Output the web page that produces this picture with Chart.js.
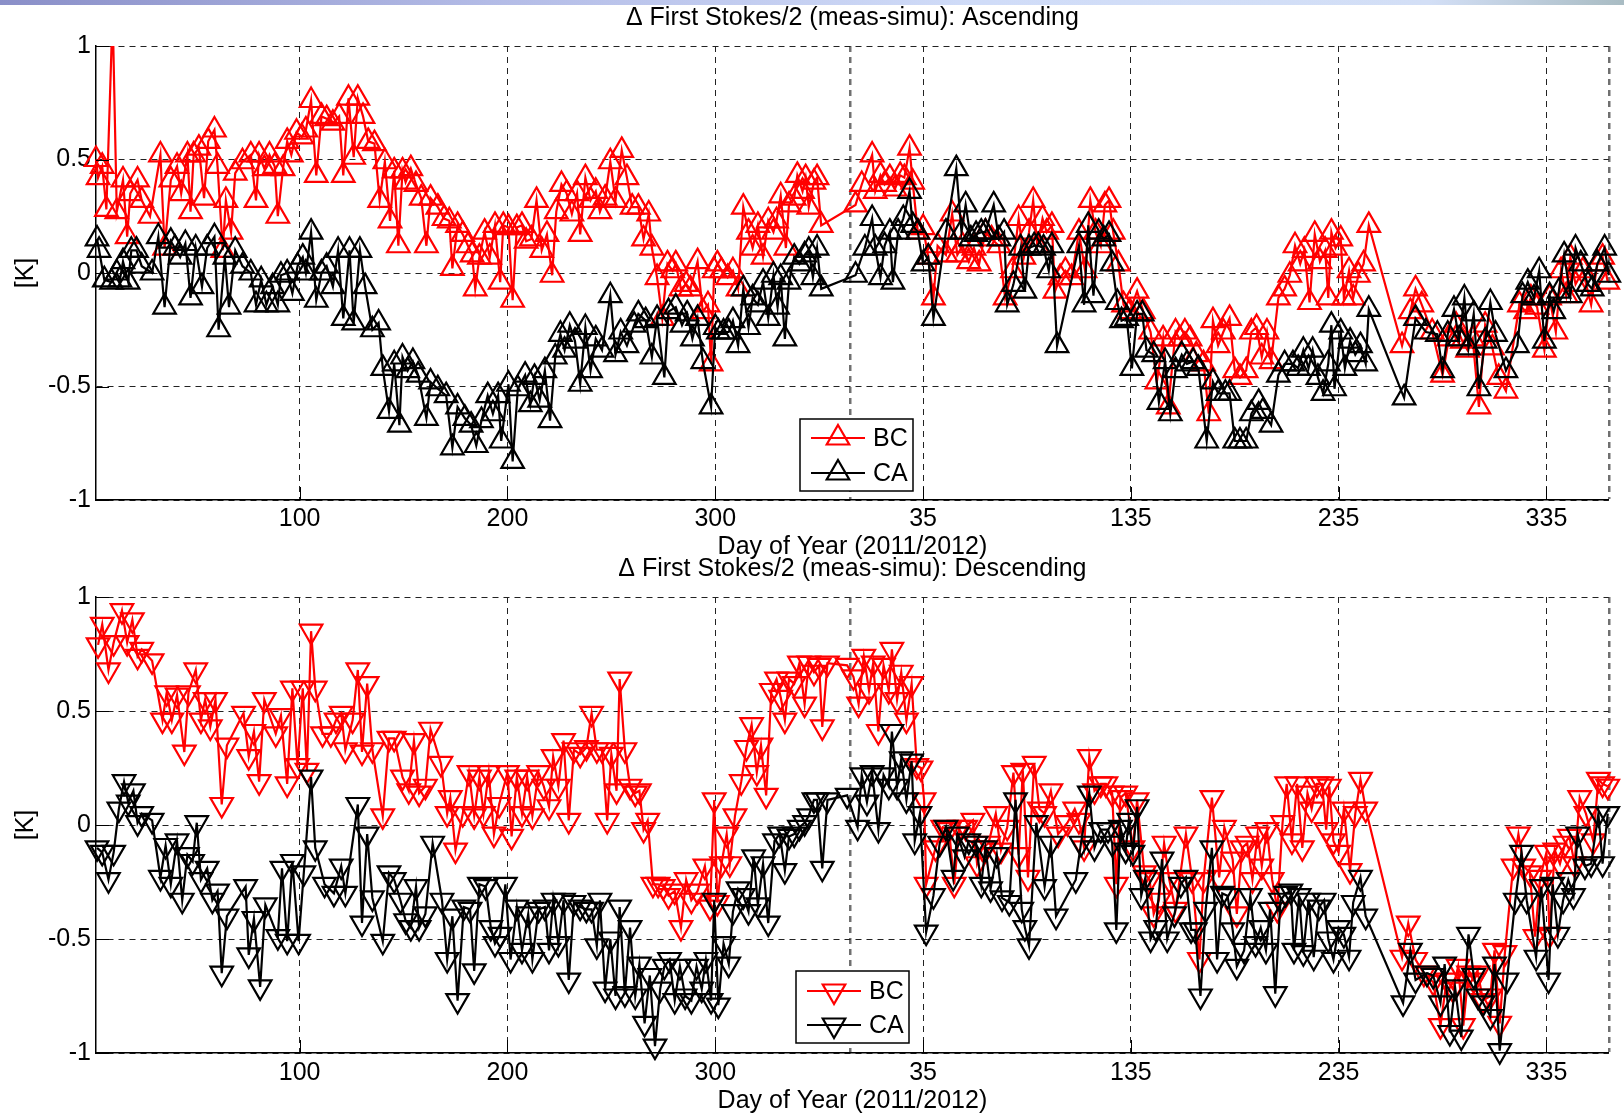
<!DOCTYPE html>
<html>
<head>
<meta charset="utf-8">
<script src="https://cdn.jsdelivr.net/npm/chart.js@4.4.1/dist/chart.umd.min.js"></script>
<style>
  body { margin: 0; background: #fff; width: 1624px; height: 1117px; position: relative; overflow: hidden; }
  #band { position: absolute; left: 0; top: 0; width: 1624px; height: 5px; z-index: 5;
          background: linear-gradient(to right, #8a8fc8, #b3bbe6 30%, #d0dcf8 60%, #d3dff6 88%, #a9bcc3); }
  .panel { position: absolute; left: 0; width: 1624px; }
</style>
</head>
<body>
<div id="band"></div>
<div class="panel" style="top:0;height:562px"><canvas id="ascending"></canvas></div>
<div class="panel" style="top:552px;height:565px"><canvas id="descending"></canvas></div>
<script>
// x = day counted from 1 Jan 2011 (2012 days are shifted by 365)
const dayTicks = [100, 200, 300, 400, 500, 600, 700];
const dayTickLabels = ['100', '200', '300', '35', '135', '235', '335'];
const yearEnd = 365;
const firstDay = 2;
const lastDay = 730;

// [day, K]
const ascBC = [[2,0.5],[3,0.42],[5,0.47],[7,0.28],[10,1.15],[12,0.27],[15,0.41],[17,0.16],[18.5,0.35],[22,0.41],[24,0.32],[28,0.25],[33,0.52],[35,0.11],[38,0.41],[41,0.47],[43,0.35],[46,0.52],[47.5,0.27],[49,0.52],[51.5,0.55],[54,0.33],[56,0.58],[59,0.63],[60.5,0.47],[63,0.1],[64.5,0.32],[67,0.18],[69,0.44],[72.5,0.49],[76.5,0.52],[79,0.32],[80.5,0.52],[83,0.46],[85.5,0.52],[88,0.47],[89.5,0.25],[92,0.46],[94,0.58],[96,0.52],[98.5,0.62],[101,0.6],[103,0.63],[105.5,0.76],[108,0.43],[110.5,0.69],[113,0.68],[116,0.66],[119,0.69],[121,0.43],[123.5,0.77],[126,0.51],[128,0.77],[130.5,0.69],[133,0.58],[136,0.57],[138.5,0.32],[141,0.49],[143.5,0.23],[145.5,0.45],[147.5,0.12],[149.5,0.45],[151,0.4],[153.5,0.46],[156,0.39],[158.5,0.33],[161,0.12],[163,0.33],[166.5,0.29],[169.5,0.24],[172,0.23],[173.5,0.02],[176,0.21],[178.5,0.17],[181,0.12],[183,0.08],[184.5,-0.07],[186.5,0.07],[189,0.18],[191.5,0.07],[194,0.21],[196.5,-0.04],[198,0.21],[200.5,0.2],[202.5,-0.12],[204.5,0.2],[207,0.21],[209,0.14],[211.5,0.15],[214,0.32],[216.5,0.1],[219,0.17],[221.5,-0.01],[223.5,0.27],[226,0.39],[228.5,0.35],[231,0.26],[233.5,0.35],[235,0.17],[237.5,0.42],[240,0.32],[242.5,0.36],[244.5,0.27],[247,0.33],[249.5,0.49],[252,0.32],[255,0.54],[257.5,0.42],[260,0.29],[263,0.29],[265.5,0.15],[268,0.26],[269.5,0.11],[272,-0.02],[274.5,-0.2],[277,0.04],[279.5,0.01],[281,0.04],[283.5,-0.07],[286,-0.05],[288,-0.07],[291.5,0.05],[294,-0.17],[296.5,-0.14],[298,-0.4],[299.5,0.01],[301,0.04],[303,0.01],[306,-0.02],[308.5,0.01],[311,-0.07],[313.5,0.29],[316,0.18],[318,0.11],[320.5,0.21],[323,0.07],[325.5,0.23],[328,0.18],[329.5,0.23],[331.5,0.34],[334,0.11],[335.5,0.3],[338,0.33],[339.5,0.43],[342,0.36],[343.5,0.42],[345,0.29],[347.5,0.4],[349,0.42],[351,0.21],[367.5,0.3],[370.5,0.39],[375.5,0.52],[377,0.36],[379.5,0.43],[381.5,0.39],[384,0.42],[386.5,0.37],[389,0.43],[391,0.42],[393.5,0.55],[395,0.4],[397.5,0.18],[400,0.2],[402.5,0.07],[405,-0.11],[407,0.12],[411,0.08],[414,0.26],[416.5,0.08],[419,0.12],[422,0.05],[424.5,0.11],[427,0.04],[430,0.18],[433,0.15],[436.5,0.12],[439.5,-0.11],[443,0.01],[446,0.24],[448.5,0.07],[451,0.18],[453,0.32],[455,0.12],[457.5,0.24],[459.5,0.18],[462,0.21],[463.5,-0.08],[466,-0.02],[468.5,0.01],[471.5,-0.02],[475,0.18],[478,0.01],[480.5,0.32],[483,0.18],[485.5,0.12],[487.5,0.3],[489.5,0.32],[491.5,0.18],[494,0.04],[496.5,-0.14],[499.5,-0.17],[503,-0.08],[506,-0.17],[509.5,-0.26],[512.5,-0.48],[515.5,-0.29],[518,-0.59],[521.5,-0.26],[523.5,-0.29],[526,-0.26],[528.5,-0.29],[531.5,-0.36],[535,-0.4],[537.5,-0.62],[539.5,-0.21],[542,-0.32],[544.5,-0.26],[547.5,-0.2],[550,-0.43],[552.5,-0.46],[555.5,-0.43],[558,-0.26],[560.5,-0.24],[563,-0.37],[565.5,-0.26],[567.5,-0.39],[571,-0.11],[574,-0.07],[576.5,-0.01],[579,0.12],[581.5,0.04],[583.5,0.1],[586,-0.13],[588.5,0.17],[591,0.05],[593.5,0.1],[595,-0.11],[596.5,0.18],[598.5,0.11],[601,0.15],[602.5,-0.11],[605,0.01],[607,-0.11],[609.5,-0.01],[612,0.04],[614.5,0.21],[630.5,-0.32],[634.5,-0.17],[637,-0.07],[640,-0.14],[645,-0.26],[650,-0.45],[653,-0.29],[656.5,-0.23],[659.5,-0.3],[662,-0.34],[664.5,-0.29],[667.5,-0.59],[670.5,-0.23],[674,-0.33],[677,-0.46],[680.5,-0.52],[687,-0.14],[690,-0.17],[692.5,-0.11],[695.5,-0.15],[699,-0.34],[701.5,-0.11],[704.5,-0.26],[707,0.01],[709.5,-0.1],[711.5,0.07],[714,-0.05],[717.5,0.01],[721.5,-0.14],[724.5,0.04],[727,0.07],[729.5,-0.04]];

const ascCA = [[2.5,0.15],[3.5,0.1],[6,-0.03],[9.5,-0.04],[12,0],[13.5,-0.03],[15,0.05],[17.5,-0.04],[19,0.1],[21.5,0.1],[24,0.03],[29,0],[32,0.16],[35,-0.15],[38,0.14],[40,0.11],[42.5,0.07],[45,0.13],[47.5,-0.11],[50,0.11],[53,-0.06],[55.5,0.11],[59,0.16],[61,-0.25],[64,0.07],[66,-0.15],[69,0.1],[72.5,0.03],[76.5,0],[79,-0.14],[81.5,-0.03],[84,-0.14],[87,-0.06],[89.5,-0.14],[91,-0.01],[94,0],[96.5,-0.09],[99,0.03],[101.5,0.07],[103,0],[105.5,0.18],[108,-0.12],[110.5,0],[113,0.03],[116,-0.06],[118.5,0.1],[121,-0.2],[124,0.1],[126,-0.22],[129,0.1],[131.5,-0.06],[135,-0.25],[138,-0.22],[140,-0.42],[143,-0.61],[145.5,-0.4],[148,-0.67],[149.5,-0.37],[152,-0.43],[154.5,-0.39],[157,-0.45],[161,-0.64],[163,-0.48],[166.5,-0.51],[170.5,-0.54],[173.5,-0.77],[176,-0.59],[179.5,-0.64],[182.5,-0.67],[185,-0.76],[187.5,-0.65],[190.5,-0.54],[193,-0.62],[195.5,-0.54],[197,-0.74],[200.5,-0.49],[202.5,-0.83],[205,-0.51],[208.5,-0.45],[211,-0.58],[213,-0.46],[215.5,-0.56],[218,-0.43],[220.5,-0.65],[223,-0.37],[225.5,-0.27],[227.5,-0.34],[230,-0.23],[232.5,-0.3],[235,-0.49],[237.5,-0.24],[240,-0.43],[242.5,-0.29],[245.5,-0.34],[249.5,-0.1],[252,-0.36],[254.5,-0.26],[257.5,-0.32],[261,-0.23],[263,-0.18],[266.5,-0.21],[269.5,-0.37],[272,-0.2],[275.5,-0.46],[277.5,-0.17],[281,-0.15],[284,-0.23],[286.5,-0.18],[289,-0.29],[291.5,-0.2],[294,-0.39],[298,-0.59],[300,-0.24],[301.5,-0.26],[304,-0.26],[306.5,-0.26],[308.5,-0.21],[311,-0.32],[313.5,-0.07],[316,-0.24],[318,-0.11],[320.5,-0.14],[323,-0.04],[325.5,-0.2],[328,-0.01],[330,-0.15],[331.5,-0.02],[333.5,-0.29],[335.5,-0.04],[338,0.07],[340.5,0.04],[343,0.08],[345,0.1],[347,-0.02],[349,0.11],[351,-0.07],[367.5,-0.01],[372,0.11],[375.5,0.24],[377,0.11],[379.5,-0.02],[381.5,0.12],[384,0.18],[385.5,-0.04],[388,0.18],[390.5,0.24],[393.5,0.36],[395,0.21],[397.5,0.18],[400,0.04],[402.5,0.07],[405,-0.2],[411,0.18],[416,0.46],[418.5,0.18],[420.5,0.3],[423,0.15],[425.5,0.17],[428,0.18],[430,0.18],[434,0.3],[436.5,0.15],[439,0.18],[440.5,-0.14],[443.5,-0.05],[447,0.11],[449,-0.08],[451,0.11],[453.5,0.12],[455.5,0.12],[458,0.11],[460.5,0.01],[462,0.12],[464.5,-0.32],[475,0.12],[477.5,-0.14],[479.5,0.21],[482,-0.1],[484.5,0.18],[487,0.15],[489.5,0.17],[491,0.04],[493.5,-0.13],[495.5,-0.21],[498,-0.2],[500.5,-0.42],[503,-0.18],[505.5,-0.18],[507.5,-0.34],[511,-0.36],[513.5,-0.57],[516.5,-0.39],[519,-0.62],[521.5,-0.43],[524.5,-0.36],[527,-0.4],[530,-0.39],[532.5,-0.42],[536.5,-0.74],[539.5,-0.48],[542,-0.53],[545.5,-0.53],[547.5,-0.53],[550,-0.74],[552.5,-0.74],[555.5,-0.74],[558,-0.62],[561.5,-0.57],[563.5,-0.61],[567.5,-0.67],[571,-0.45],[574,-0.4],[578,-0.4],[580.5,-0.42],[583,-0.34],[585.5,-0.42],[587.5,-0.34],[590,-0.46],[592.5,-0.53],[595,-0.4],[596.5,-0.23],[598,-0.51],[601,-0.26],[603,-0.42],[605.5,-0.3],[608,-0.36],[610.5,-0.32],[613,-0.4],[614.5,-0.16],[631.5,-0.55],[637,-0.2],[642,-0.26],[647.5,-0.27],[650,-0.43],[652.5,-0.27],[655.5,-0.16],[658,-0.29],[660.5,-0.11],[662.5,-0.33],[665,-0.18],[667.5,-0.51],[670.5,-0.3],[673,-0.13],[675.5,-0.27],[680.5,-0.43],[686,-0.32],[688.5,-0.1],[691,-0.04],[694,-0.11],[696.5,0.01],[699,-0.3],[701.5,-0.1],[703.5,-0.17],[706,-0.08],[708.5,0.08],[711.5,-0.1],[714,0.11],[716.5,0.04],[720,-0.05],[722,-0.07],[724.5,0.04],[728,0.11],[730,-0.01]];

const descBC = [[3,0.79],[5,0.88],[8,0.68],[10.5,0.8],[14.5,0.94],[17,0.8],[19.5,0.9],[22,0.74],[24,0.77],[29,0.72],[34,0.46],[36,0.58],[38.5,0.46],[41,0.57],[44.5,0.32],[46.5,0.58],[50,0.68],[52.5,0.46],[54.5,0.55],[57,0.43],[59.5,0.55],[62.5,0.09],[65,0.35],[73,0.49],[75.5,0.3],[78,0.41],[80.5,0.19],[83,0.55],[88.5,0.4],[91,0.48],[94,0.18],[96.5,0.6],[99,0.26],[101.5,0.6],[103.5,0.24],[105.5,0.85],[107.5,0.6],[111,0.4],[115,0.4],[117.5,0.46],[120,0.49],[122,0.33],[125.5,0.46],[128,0.68],[130,0.32],[132.5,0.62],[135,0.33],[140,0.04],[143,0.38],[145.5,0.38],[149.5,0.21],[152.5,0.15],[155,0.37],[157.5,0.14],[160.5,0.17],[163,0.42],[168,0.27],[171,0.05],[172.5,0.12],[175,-0.11],[178.5,0.05],[181.5,0.23],[184,0.04],[186.5,0.21],[188.5,0.05],[191,0.23],[193.5,-0.04],[196,0.09],[200,0.23],[202,-0.05],[204.5,0.21],[207,0.05],[209.5,0.21],[212,0.04],[215,0.23],[217.5,0.17],[220,0.08],[222,0.3],[224.5,0.17],[227,0.37],[229.5,0.02],[232,0.33],[235,0.31],[238,0.34],[240.5,0.49],[243,0.33],[245.5,0.33],[248,0.02],[250,0.31],[252.5,0.15],[254,0.64],[256.5,0.33],[259,0.17],[261.5,0.14],[263.5,0.15],[265.5,-0.02],[267.5,0.02],[270,-0.26],[272.5,-0.26],[275,-0.27],[277.5,-0.31],[280.5,-0.29],[283.5,-0.45],[286,-0.24],[288.5,-0.33],[291.5,-0.29],[295,-0.18],[297.5,-0.36],[299.5,0.11],[301,-0.34],[303,-0.17],[305.5,-0.04],[307,-0.17],[309.5,0.04],[312.5,0.19],[315,0.34],[317.5,0.44],[320,0.23],[322,0.35],[324.5,0.13],[327,0.59],[329.5,0.64],[331.5,0.56],[333.5,0.46],[335.5,0.64],[338,0.62],[340.5,0.71],[343,0.53],[345,0.71],[347.5,0.67],[350,0.7],[351.5,0.43],[354,0.71],[363.5,0.7],[366.5,0.65],[369,0.53],[371.5,0.74],[374,0.59],[376,0.71],[378.5,0.41],[381,0.7],[383.5,0.59],[385,0.77],[387.5,0.55],[389.5,0.67],[392,0.46],[394.5,0.62],[397,0.26],[399,0.25],[400.5,0.11],[401.5,-0.26],[406,-0.1],[409.5,-0.01],[412.5,-0.02],[415,-0.26],[417.5,-0.01],[420.5,-0.01],[424,0.02],[426,-0.17],[428.5,-0.1],[431.5,-0.08],[435,0.05],[437.5,-0.11],[440.5,-0.01],[443.5,0.23],[446,-0.13],[448,0.24],[450.5,-0.23],[453.5,0.27],[456,0.07],[458.5,0.05],[461.5,0.15],[465,-0.04],[469.5,0.01],[473,0.07],[475,0.02],[477.5,-0.1],[480,0.3],[482.5,0.15],[485.5,0.18],[488,0.18],[491,0.14],[493,-0.26],[495,0.12],[497.5,0.14],[501,-0.1],[503,0.11],[506.5,-0.21],[509,-0.24],[511,-0.39],[513.5,-0.33],[516,-0.08],[518.5,-0.24],[521.5,-0.37],[526.5,-0.04],[529.5,-0.24],[533,-0.59],[535,-0.24],[539,0.12],[542.5,-0.23],[545,-0.01],[549,-0.15],[551,-0.39],[553.5,-0.1],[556,-0.08],[558.5,-0.24],[561,-0.04],[563,-0.18],[565.5,-0.02],[568,-0.24],[570.5,-0.37],[573,0.01],[575,0.18],[577.5,-0.07],[580,0.18],[582.5,-0.1],[585,0.14],[587,0.07],[589.5,0.18],[592,0.18],[594,-0.02],[595.5,0.17],[597.5,-0.07],[600,-0.12],[602.5,0.07],[605.5,-0.2],[608,0.05],[610.5,0.2],[613,0.07],[630.5,-0.58],[633.5,-0.43],[637,-0.59],[641,-0.65],[645.5,-0.69],[649,-0.88],[652,-0.68],[655,-0.72],[657.5,-0.62],[660,-0.88],[662.5,-0.65],[665,-0.68],[667,-0.65],[669.5,-0.77],[673,-0.75],[675,-0.55],[677.5,-0.87],[680,-0.56],[684,-0.18],[686.5,-0.04],[689,-0.18],[692,-0.21],[694.5,-0.49],[697,-0.23],[700,-0.12],[701.5,-0.48],[704,-0.11],[706.5,-0.17],[709,-0.08],[711,-0.05],[713.5,-0.17],[716,0.12],[719,0.05],[722.5,-0.07],[725,0.2],[727,0.18],[729.5,0.17]];

const descCA = [[2.5,-0.1],[5,-0.12],[8,-0.24],[10.5,-0.12],[13,0.07],[15.5,0.19],[17.5,0.1],[20,0.15],[22,0.01],[24,0.05],[29,0.02],[33,-0.23],[35.5,-0.09],[38,-0.26],[41,-0.07],[43.5,-0.33],[46,-0.13],[48.5,-0.16],[50.5,0.01],[52.5,-0.24],[55.5,-0.19],[58,-0.33],[60.5,-0.29],[62.5,-0.65],[65,-0.4],[74,-0.27],[75.5,-0.57],[78,-0.41],[81,-0.71],[83.5,-0.35],[89.5,-0.49],[91.5,-0.19],[94,-0.51],[96.5,-0.16],[99.5,-0.51],[102,-0.21],[105.5,0.21],[107.5,-0.1],[112,-0.26],[116.5,-0.3],[120,-0.18],[122,-0.3],[128,0.09],[130,-0.43],[132.5,-0.04],[135,-0.32],[140,-0.51],[143,-0.21],[145.5,-0.24],[148.5,-0.33],[151,-0.42],[153.5,-0.45],[156,-0.27],[157.5,-0.45],[160.5,-0.39],[164,-0.08],[168.5,-0.33],[171,-0.59],[173.5,-0.4],[176,-0.77],[179,-0.36],[182,-0.37],[184,-0.64],[186.5,-0.26],[189.5,-0.27],[192,-0.45],[194,-0.52],[196.5,-0.48],[199,-0.26],[201.5,-0.59],[204.5,-0.36],[207,-0.55],[210,-0.39],[212,-0.59],[215,-0.37],[218,-0.36],[220,-0.55],[222,-0.33],[224.5,-0.52],[227,-0.33],[229.5,-0.68],[232,-0.34],[235,-0.36],[238,-0.37],[240.5,-0.37],[243,-0.53],[244.5,-0.33],[247,-0.72],[249.5,-0.5],[252,-0.75],[254,-0.36],[256.5,-0.74],[259,-0.45],[261.5,-0.75],[263.5,-0.61],[266,-0.87],[268.5,-0.66],[271,-0.97],[273.5,-0.72],[275.5,-0.62],[278,-0.59],[280.5,-0.77],[283,-0.62],[285.5,-0.75],[288.5,-0.77],[291,-0.62],[293.5,-0.72],[295.5,-0.59],[298,-0.77],[299.5,-0.33],[301.5,-0.79],[304,-0.52],[306.5,-0.61],[308.5,-0.38],[311,-0.28],[313.5,-0.31],[316,-0.38],[318.5,-0.14],[320.5,-0.35],[323,-0.17],[325.5,-0.43],[328.5,-0.07],[331,-0.04],[333.5,-0.2],[335.5,-0.05],[338,-0.04],[340.5,-0.01],[343,0.01],[345,0.04],[347.5,0.11],[349,0.11],[351.5,-0.19],[354,0.11],[363.5,0.13],[368.5,-0.01],[370.5,0.22],[373,0.1],[375.5,0.23],[378.5,-0.02],[381,0.22],[383.5,0.17],[385,0.41],[387.5,0.17],[389.5,0.29],[392,0.11],[394.5,0.28],[396,-0.07],[398.5,0.05],[401.5,-0.47],[405,-0.31],[408,-0.08],[411,-0.01],[414.5,-0.23],[416.5,-0.04],[420,-0.14],[422,-0.07],[425.5,-0.08],[428,-0.26],[430,-0.1],[432.5,-0.28],[435.5,-0.13],[438,-0.32],[441.5,-0.34],[444.5,0.11],[447.5,-0.37],[449,-0.45],[451,-0.53],[454.5,0.01],[458.5,-0.27],[461.5,-0.08],[464,-0.4],[473.5,-0.24],[476,-0.08],[480,0.14],[482.5,-0.1],[485.5,-0.02],[489,-0.02],[491,-0.08],[493,-0.46],[495,-0.01],[497.5,-0.11],[499,0.02],[501,-0.12],[503,0.08],[505,-0.31],[507,-0.23],[509.5,-0.5],[512,-0.45],[515,-0.15],[517.5,-0.5],[521,-0.39],[524,-0.26],[526.5,-0.23],[529,-0.46],[531,-0.46],[533.5,-0.75],[536,-0.37],[539,-0.1],[541.5,-0.59],[544,-0.3],[546.5,-0.31],[549,-0.46],[551,-0.62],[554.5,-0.55],[557.5,-0.31],[560,-0.52],[562.5,-0.45],[565,-0.55],[567,-0.37],[569.5,-0.74],[572,-0.33],[574.5,-0.3],[577,-0.29],[578.5,-0.55],[581,-0.31],[583,-0.56],[585.5,-0.33],[588,-0.58],[590.5,-0.36],[593,-0.33],[595,-0.5],[597.5,-0.59],[600,-0.45],[602.5,-0.48],[605,-0.58],[607,-0.34],[610.5,-0.23],[613,-0.4],[631,-0.78],[634.5,-0.55],[637,-0.68],[642.5,-0.65],[645.5,-0.66],[649,-0.78],[651,-0.61],[653.5,-0.91],[656,-0.71],[659,-0.93],[662.5,-0.48],[665,-0.66],[667,-0.75],[669.5,-0.78],[673,-0.84],[675,-0.61],[677.5,-0.99],[681,-0.68],[685,-0.33],[688,-0.12],[690.5,-0.33],[695,-0.58],[697.5,-0.27],[701,-0.68],[703,-0.26],[705.5,-0.48],[708,-0.33],[710.5,-0.24],[713,-0.31],[715,-0.04],[718.5,-0.18],[721.5,-0.17],[725,0.05],[727,-0.17],[729.5,0.05]];

const FONT = '"Liberation Sans", Arial, Helvetica, sans-serif';
const MARK = 13;

function toXY(pairs) {
    return pairs.map(p => ({x: p[0], y: p[1]}));
}

// short tick marks inside the axes, like matlab
const insideTicks = {
    id: 'insideTicks',
    afterDatasetsDraw(chart) {
        const {ctx, chartArea, scales} = chart;
        ctx.save();
        ctx.strokeStyle = '#000';
        ctx.lineWidth = 1;
        ctx.beginPath();
        dayTicks.forEach(d => {
            const px = Math.round(scales.x.getPixelForValue(d)) + 0.5;
            ctx.moveTo(px, chartArea.bottom);
            ctx.lineTo(px, chartArea.bottom - 13);
        });
        scales.y.ticks.forEach(t => {
            const py = Math.round(scales.y.getPixelForValue(t.value)) + 0.5;
            ctx.moveTo(chartArea.left, py);
            ctx.lineTo(chartArea.left + 13, py);
        });
        ctx.stroke();
        ctx.restore();
    }
};

// boxed legend sitting inside the plot area
const boxLegend = {
    id: 'boxLegend',
    afterDraw(chart, args, opts) {
        const ctx = chart.ctx;
        ctx.save();
        ctx.fillStyle = '#fff';
        ctx.fillRect(opts.x, opts.y, opts.w, opts.h);
        ctx.strokeStyle = '#000';
        ctx.lineWidth = 1.5;
        ctx.strokeRect(opts.x, opts.y, opts.w, opts.h);
        ctx.font = '25px ' + FONT;
        ctx.textBaseline = 'middle';
        chart.data.datasets.forEach((ds, i) => {
            const y = opts.y + opts.rows[i];
            ctx.strokeStyle = ds.borderColor;
            ctx.lineWidth = 2.2;
            ctx.beginPath();
            ctx.moveTo(opts.x + 11, y);
            ctx.lineTo(opts.x + 65, y);
            ctx.stroke();
            ctx.fillStyle = 'rgba(0,0,0,0)';
            Chart.helpers.drawPoint(ctx, {pointStyle: 'triangle', radius: MARK, rotation: ds.pointRotation, borderWidth: 2.2}, opts.x + 38, y);
            ctx.fillStyle = '#000';
            ctx.fillText(ds.label, opts.x + 73, y + 1);
        });
        ctx.restore();
    }
};

function stokesChart(id, title, bc, ca, rot, lay) {
    const series = (label, pairs, color, order) => ({
        label: label,
        data: toXY(pairs),
        borderColor: color,
        borderWidth: 2.2,
        pointStyle: 'triangle',
        pointRotation: rot,
        pointRadius: MARK,
        pointHoverRadius: MARK,
        pointBorderWidth: 2.2,
        pointBorderColor: color,
        pointBackgroundColor: 'rgba(0,0,0,0)',
        tension: 0,
        order: order,
        clip: {left: 20, right: 20, top: 0, bottom: 20}
    });

    const specialLine = v => v === yearEnd || v === lastDay;

    return new Chart(document.getElementById(id), {
        type: 'line',
        data: {
            datasets: [series('BC', bc, '#ff0000', 1), series('CA', ca, '#000000', 0)]
        },
        options: {
            responsive: true,
            maintainAspectRatio: false,
            animation: false,
            events: [],
            layout: {padding: {left: 0, right: 10, top: 0, bottom: 0}},
            plugins: {
                legend: {display: false},
                tooltip: {enabled: false},
                title: {
                    display: true,
                    text: title,
                    fullSize: false,
                    color: '#000',
                    font: {family: FONT, size: 25, weight: 'normal'},
                    padding: {top: lay.titleTop, bottom: lay.titleBottom}
                },
                boxLegend: lay.legend
            },
            scales: {
                x: {
                    type: 'linear',
                    min: firstDay,
                    max: lastDay,
                    afterFit: s => { s.height = lay.xHeight; },
                    afterBuildTicks: s => {
                        s.ticks = dayTicks.concat([yearEnd, lastDay]).sort((a, b) => a - b).map(v => ({value: v}));
                    },
                    ticks: {
                        autoSkip: false,
                        maxRotation: 0,
                        padding: lay.tickPad,
                        color: '#000',
                        font: {family: FONT, size: 25},
                        callback: v => {
                            const i = dayTicks.indexOf(v);
                            return i < 0 ? '' : dayTickLabels[i];
                        }
                    },
                    grid: {
                        drawTicks: false,
                        color: c => (c.tick && specialLine(c.tick.value)) ? '#707070' : '#222',
                        lineWidth: c => (c.tick && specialLine(c.tick.value)) ? 2.5 : 1
                    },
                    border: {display: true, color: '#000', width: 1.5, dash: [6, 5]},
                    title: {
                        display: true,
                        text: 'Day of Year (2011/2012)',
                        color: '#000',
                        font: {family: FONT, size: 25},
                        padding: {top: 0, bottom: lay.xTitlePad}
                    }
                },
                y: {
                    min: -1,
                    max: 1,
                    afterFit: s => { s.width = 96; },
                    ticks: {
                        stepSize: 0.5,
                        padding: 5,
                        color: '#000',
                        font: {family: FONT, size: 25},
                        callback: v => String(v)
                    },
                    grid: {drawTicks: false, color: '#222', lineWidth: 1},
                    border: {display: true, color: '#000', width: 1.5, dash: [6, 5]},
                    title: {
                        display: true,
                        text: '[K]',
                        color: '#000',
                        font: {family: FONT, size: 25},
                        padding: {top: 11, bottom: 0}
                    }
                }
            }
        },
        plugins: [insideTicks, boxLegend]
    });
}

stokesChart('ascending', 'Δ First Stokes/2 (meas-simu): Ascending', ascBC, ascCA, 0, {
    titleTop: 3, titleBottom: 13, xHeight: 62, tickPad: 4, xTitlePad: 0,
    legend: {x: 800, y: 419, w: 113, h: 72, rows: [19, 54]}
});

stokesChart('descending', 'Δ First Stokes/2 (meas-simu): Descending', descBC, descCA, 180, {
    titleTop: 2, titleBottom: 13, xHeight: 64, tickPad: 5, xTitlePad: 1,
    legend: {x: 796, y: 419, w: 113, h: 72, rows: [20, 54]}
});
</script>
</body>
</html>
